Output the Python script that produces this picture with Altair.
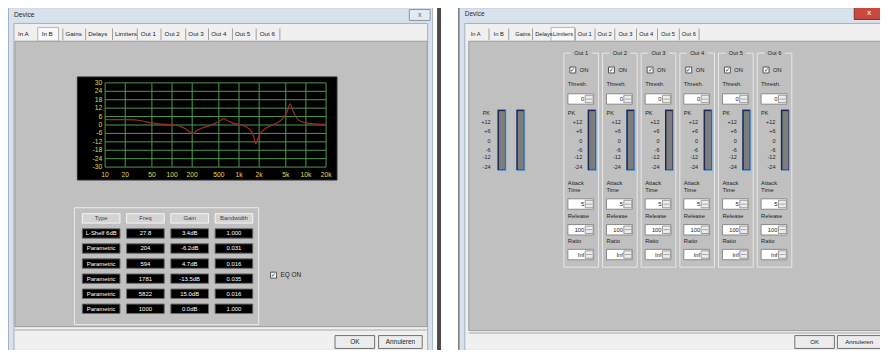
import altair as alt
import pandas as pd

# ---------------- data ----------------
EQ_FREQ_HZ = [10, 15, 20, 28, 35, 50, 70, 100, 130, 160, 185, 204, 230, 270, 330, 420, 520, 594,
              680, 800, 1000, 1300, 1550, 1700, 1781, 1900, 2100, 2500, 3000, 3700, 4500, 5200,
              5822, 6300, 7000, 8000, 10000, 13000, 20000]
EQ_GAIN_DB = [3.8, 3.8, 3.8, 3.7, 3.0, 1.5, 0.6, 0.2, -0.8, -2.8, -5.0, -6.2, -4.3, -2.5, -1.2, 0.8,
              3.0, 4.5, 3.0, 1.5, 0.3, -1.5, -5.0, -10.0, -13.5, -10.0, -6.0, -2.5, -0.5, 1.5, 4.5,
              9.0, 15.0, 11.0, 6.0, 3.0, 1.5, 0.8, 0.5]
FREQ_TICKS = [10, 20, 50, 100, 200, 500, 1000, 2000, 5000, 10000, 20000]
FREQ_TICK_LABELS = ["10", "20", "50", "100", "200", "500", "1k", "2k", "5k", "10k", "20k"]
DB_TICKS = [30, 24, 18, 12, 6, 0, -6, -12, -18, -24, -30]

TABLE_HEADERS = ["Type", "Freq", "Gain", "Bandwidth"]
FILTER_TYPES = ["L-Shelf 6dB", "Parametric", "Parametric", "Parametric", "Parametric", "Parametric"]
FILTER_FREQS = ["27.8", "204", "594", "1781", "5822", "1000"]
FILTER_GAINS = ["3.4dB", "-6.2dB", "4.7dB", "-13.5dB", "15.0dB", "0.0dB"]
FILTER_BANDWIDTHS = ["1.000", "0.031", "0.016", "0.035", "0.016", "1.000"]

TABS = ["In A", "In B", "Gains", "Delays", "Limiters", "Out 1", "Out 2", "Out 3", "Out 4", "Out 5", "Out 6"]
OUTPUTS = ["Out 1", "Out 2", "Out 3", "Out 4", "Out 5", "Out 6"]
THRESHOLDS = ["0", "0", "0", "0", "0", "0"]
ATTACK_TIMES = ["5", "5", "5", "5", "5", "5"]
RELEASES = ["100", "100", "100", "100", "100", "100"]
RATIOS = ["Inf", "Inf", "Inf", "Inf", "Inf", "Inf"]
METER_MARKS = ["PK", "+12", "+6", "0", "-6", "-12", "-24"]

# ---------------- layout ----------------
X0, Y0, W, H = 8, 8, 880, 342
FONT = "Liberation Sans"
PX = alt.Scale(domain=[X0, X0 + W], range=[0, W], nice=False, zero=False)
PY = alt.Scale(domain=[Y0, Y0 + H], range=[0, H], nice=False, zero=False)

LEFT_TAB_X = [18, 42, 66, 89, 116, 142, 166, 190, 213, 237, 262]
LEFT_TAB_SEP = [63, 86, 113, 138, 162, 187, 210, 234, 258, 282]
RIGHT_TAB_X = [475, 498, 520, 540, 558, 583, 603, 624, 645, 667, 688]
RIGHT_TAB_SEP = [493, 513, 537, 580, 600, 620, 642, 663, 685, 705]
METER_MARK_Y = [112, 121, 131, 141, 150, 157, 167]
GROUP_LEFT, GROUP_W, GROUP_STEP = 569, 35, 39


def band(first, width, step, domain, origin):
    n = len(domain)
    return alt.Scale(type="band", domain=domain,
                     range=[first - origin, first - origin + step * (n - 1) + width],
                     paddingInner=(step - width) / step, paddingOuter=0)


def boxes(rows, sw=1):
    df = pd.DataFrame(rows, columns=["x", "x2", "y", "y2", "fill", "stroke"])
    return alt.Chart(df).mark_rect(strokeWidth=sw).encode(
        x=alt.X("x:Q", scale=PX, axis=None), x2="x2:Q",
        y=alt.Y("y:Q", scale=PY, axis=None), y2="y2:Q",
        fill=alt.Fill("fill:N", scale=None),
        stroke=alt.Stroke("stroke:N", scale=None))


def texts(rows, align="left", weight="normal"):
    df = pd.DataFrame(rows, columns=["x", "y", "text", "size", "color"])
    return alt.Chart(df).mark_text(align=align, baseline="middle", font=FONT, fontWeight=weight).encode(
        x=alt.X("x:Q", scale=PX, axis=None), y=alt.Y("y:Q", scale=PY, axis=None),
        text="text:N", size=alt.Size("size:Q", scale=None), color=alt.Color("color:N", scale=None))


layers = []

# ---------- window chrome ----------
chrome = [
    # left window
    (8, 437, 6, 360, "#d8e2ed", "#6f8194"),
    (14, 431.5, 22, 352, "#f0f0f0", "#9fb0c2"),
    (38, 59, 26, 40, "#f8f8f8", "#b5b5b5"),
    (15, 431, 40, 328, "#c0c0c0", "#9c9c9c"),
    (15, 431, 331, 331.8, "#a6a6a6", "transparent"),
    (413, 434, 8, 19, "#e4eaf1", "#8795a5"),
    (338, 378, 337, 350, "#ececec", "#707070"),
    (382, 426, 337, 350, "#ececec", "#707070"),
    # gap between windows
    (437, 463, 0, 360, "#ffffff", "transparent"),
    (441, 445, 0, 360, "#4a4a4a", "transparent"),
    # right window
    (463, 892, 6, 360, "#d8e2ed", "#3c3c3c"),
    (469, 892, 22, 352, "#f0f0f0", "#9fb0c2"),
    (556, 580, 26, 40, "#f8f8f8", "#b5b5b5"),
    (473, 892, 40, 332, "#c0c0c0", "#9c9c9c"),
    (473, 892, 334, 334.8, "#a6a6a6", "transparent"),
    (862, 892, 4, 18, "#c9483f", "#8a2a24"),
    (802, 842, 337, 350, "#ececec", "#707070"),
    (845, 892, 337, 350, "#ececec", "#707070"),
    # EQ display box + table group + EQ ON checkbox
    (78, 340, 76, 180, "#000000", "#2a2a2a"),
    (75, 261, 208, 326, "transparent", "#ececec"),
    (273, 279, 273, 279, "#ffffff", "#555555"),
]
chrome += [(s, s + 0.8, 27, 39, "#8a8a8a", "transparent") for s in LEFT_TAB_SEP + RIGHT_TAB_SEP]
# input meters on the limiter page
for mx in (502, 521):
    chrome += [(mx, mx + 9, 109, 171, "#6ea6d4", "transparent"),
               (mx, mx + 8, 109, 170, "#1d2954", "transparent"),
               (mx + 1.5, mx + 7.5, 110.5, 169.5, "#7d7d7d", "transparent")]
layers.append(boxes(chrome))

ui_text = [
    (14, 14, "Device", 6.8, "#2b2b2b"),
    (469, 13, "Device", 6.5, "#2b2b2b"),
    (283, 276, "EQ ON", 6.5, "#222222"),
    (487, 112, "PK", 5.6, "#222222"),
]
ui_text += [(x, 33, t, 6.3, "#222222") for x, t in zip(LEFT_TAB_X, TABS)]
ui_text += [(x, 33, t, 5.8, "#222222") for x, t in zip(RIGHT_TAB_X, TABS)]
layers.append(texts(ui_text))
layers.append(texts([
    (358, 343.5, "OK", 6.5, "#222222"), (404, 343.5, "Annuleren", 6.5, "#222222"),
    (822, 343.5, "OK", 6.2, "#222222"), (867, 343.5, "Annuleren", 6.2, "#222222"),
    (423.5, 13.5, "x", 7, "#55606c"), (877, 11, "x", 8, "#ffffff"),
    (276, 276, "\u2713", 6, "#111111"),
], align="center"))
layers.append(texts([(495, y, t, 5.6, "#222222") for y, t in zip(METER_MARK_Y[1:], METER_MARKS[1:])],
                    align="right"))

# ---------- EQ curve display ----------
FX = alt.Scale(type="log", domain=[10, 20000], range=[106 - X0, 329 - X0], nice=False)
FY = alt.Scale(domain=[-30, 30], range=[167 - Y0, 82 - Y0], nice=False, zero=False)
GRID = "#4f9a4f"

vgrid = pd.DataFrame({"freq": FREQ_TICKS, "lo": -30, "hi": 30})
hgrid = pd.DataFrame({"db": DB_TICKS, "f0": 10, "f1": 20000})
curve = pd.DataFrame({"freq": EQ_FREQ_HZ, "gain": EQ_GAIN_DB})
xlab = pd.DataFrame({"freq": FREQ_TICKS, "label": FREQ_TICK_LABELS, "db": -30})
ylab = pd.DataFrame({"db": DB_TICKS, "label": [str(v) for v in DB_TICKS], "freq": 10})

layers.append(alt.Chart(vgrid).mark_rule(color=GRID, strokeWidth=1).encode(
    x=alt.X("freq:Q", scale=FX, axis=None),
    y=alt.Y("lo:Q", scale=FY, axis=None), y2="hi:Q"))
layers.append(alt.Chart(hgrid).mark_rule(color=GRID, strokeWidth=1).encode(
    y=alt.Y("db:Q", scale=FY, axis=None),
    x=alt.X("f0:Q", scale=FX, axis=None), x2="f1:Q"))
layers.append(alt.Chart(curve).mark_line(color="#9e2a2c", strokeWidth=1.2, interpolate="monotone").encode(
    x=alt.X("freq:Q", scale=FX, axis=None), y=alt.Y("gain:Q", scale=FY, axis=None)))
layers.append(alt.Chart(xlab).mark_text(color="#e2d84a", font=FONT, fontSize=6.8, dy=8, baseline="middle").encode(
    x=alt.X("freq:Q", scale=FX, axis=None), y=alt.Y("db:Q", scale=FY, axis=None), text="label:N"))
layers.append(alt.Chart(ylab).mark_text(color="#e2d84a", font=FONT, fontSize=6.8, dx=-3, align="right",
                                        baseline="middle").encode(
    x=alt.X("freq:Q", scale=FX, axis=None), y=alt.Y("db:Q", scale=FY, axis=None), text="label:N"))

# ---------- filter table ----------
cells = [dict(row="0", col=h, text=h, fill="#d4d4d4", stroke="#f5f5f5", color="#3a3a3a")
         for h in TABLE_HEADERS]
for i in range(len(FILTER_TYPES)):
    for col, vals in zip(TABLE_HEADERS, [FILTER_TYPES, FILTER_FREQS, FILTER_GAINS, FILTER_BANDWIDTHS]):
        cells.append(dict(row=str(i + 1), col=col, text=vals[i], fill="#000000", stroke="#6a6a6a",
                          color="#ffffff"))
cells = pd.DataFrame(cells)
row_dom = [str(i) for i in range(len(FILTER_TYPES) + 1)]
TX = band(83, 38, 44.67, TABLE_HEADERS, X0)
TY = band(214, 9.5, 15.2, row_dom, Y0)
layers.append(alt.Chart(cells).mark_rect(strokeWidth=1).encode(
    x=alt.X("col:N", scale=TX, axis=None), y=alt.Y("row:N", scale=TY, axis=None),
    fill=alt.Fill("fill:N", scale=None), stroke=alt.Stroke("stroke:N", scale=None)))
layers.append(alt.Chart(cells).mark_text(font=FONT, fontSize=6, baseline="middle").encode(
    x=alt.X("col:N", scale=TX, axis=None, bandPosition=0.5),
    y=alt.Y("row:N", scale=TY, axis=None, bandPosition=0.5),
    text="text:N", color=alt.Color("color:N", scale=None)))

# ---------- limiter groups ----------
def gscale(offset, width):
    return band(GROUP_LEFT + offset, width, GROUP_STEP, OUTPUTS, X0)


def group_boxes(offset, width, y, y2, fill, stroke):
    df = pd.DataFrame({"out": OUTPUTS, "y": y, "y2": y2})
    return alt.Chart(df).mark_rect(fill=fill, stroke=stroke, strokeWidth=1).encode(
        x=alt.X("out:N", scale=gscale(offset, width), axis=None),
        y=alt.Y("y:Q", scale=PY, axis=None), y2="y2:Q")


def group_text(offset, y, values, align="left", size=5.8, color="#222222"):
    df = pd.DataFrame({"out": OUTPUTS, "y": y, "text": values})
    return alt.Chart(df).mark_text(align=align, baseline="middle", font=FONT, fontSize=size,
                                   color=color).encode(
        x=alt.X("out:N", scale=gscale(offset, 1), axis=None, bandPosition=0),
        y=alt.Y("y:Q", scale=PY, axis=None), text="text:N")


layers.append(group_boxes(0, GROUP_W, 52, 268, "transparent", "#e8e8e8"))
layers.append(group_boxes(7, 21, 48, 56, "#c0c0c0", "transparent"))
layers.append(group_text(17.5, 52, OUTPUTS, align="center"))
layers.append(group_boxes(6, 6, 66, 72, "#ffffff", "#555555"))
layers.append(group_text(9, 69, ["\u2713"] * len(OUTPUTS), align="center", size=6, color="#111111"))
layers.append(group_text(16, 69, ["ON"] * len(OUTPUTS)))
for lab, ly in (("Thresh.", 83), ("Attack", 183), ("Time", 190), ("Release", 216), ("Ratio", 242)):
    layers.append(group_text(4, ly, [lab] * len(OUTPUTS)))
for vals, sy in ((THRESHOLDS, 93), (ATTACK_TIMES, 199), (RELEASES, 225), (RATIOS, 250)):
    layers.append(group_boxes(4, 26, sy, sy + 10.5, "#ffffff", "#8a8a8a"))
    layers.append(group_boxes(21.5, 8, sy + 1.5, sy + 9, "#ececec", "#9a9a9a"))
    layers.append(group_boxes(22.5, 6, sy + 5.1, sy + 5.5, "#444444", "transparent"))
    layers.append(group_text(20.5, sy + 5.5, vals, align="right"))
# meters
layers.append(group_boxes(24, 9, 109, 171, "#6ea6d4", "transparent"))
layers.append(group_boxes(24, 8, 109, 170, "#1d2954", "transparent"))
layers.append(group_boxes(25.5, 6, 110.5, 169.5, "#7d7d7d", "transparent"))
layers.append(group_text(4, METER_MARK_Y[0], [METER_MARKS[0]] * len(OUTPUTS), size=5.6))
for mark, my in zip(METER_MARKS[1:], METER_MARK_Y[1:]):
    layers.append(group_text(18.5, my, [mark] * len(OUTPUTS), align="right", size=5.6))

chart = alt.layer(*layers).resolve_scale(x="independent", y="independent").properties(
    width=W, height=H, padding=0, autosize="none", background="#ffffff"
).configure_view(stroke=None)

chart.save("out.html", embed_options={"renderer": "svg", "actions": False})
